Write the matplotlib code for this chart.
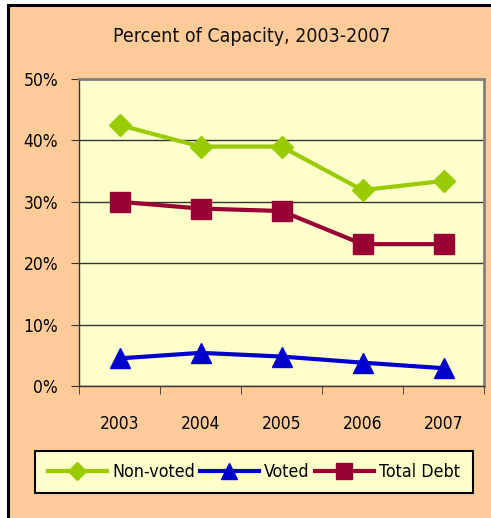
import matplotlib
matplotlib.use("Agg")
import matplotlib.pyplot as plt
from matplotlib.patches import Rectangle
from matplotlib.ticker import FixedLocator, PercentFormatter

years = ["2003", "2004", "2005", "2006", "2007"]
non_voted = [42.5, 39.0, 39.0, 31.9, 33.4]
voted = [4.5, 5.4, 4.8, 3.8, 2.9]
total_debt = [30.0, 28.9, 28.5, 23.1, 23.1]
title = "Percent of Capacity, 2003-2007"

plt.rcParams["font.family"] = ["DejaVu Sans"]
plt.rcParams["font.stretch"] = "condensed"

W, H = 491, 518
fig = plt.figure(figsize=(W / 100, H / 100), dpi=100)
fig.patch.set_facecolor("white")

# outer chart frame (only top and left edges visible)
fig.add_artist(Rectangle((8 / W, -0.2), 1.2, 1.2 - 5 / H, transform=fig.transFigure,
                         facecolor="#FFCC99", edgecolor="black", linewidth=2.2, zorder=-5))

ax = fig.add_axes([79 / W, 1 - 386 / H, (484 - 79) / W, (386 - 79) / H])
ax.set_facecolor("#FFFFCC")

x = list(range(len(years)))
ax.plot(x, non_voted, color="#99CC00", lw=3, marker="D", ms=11.5, label="Non-voted", zorder=3)
ax.plot(x, voted, color="#0000CC", lw=3, marker="^", ms=15, label="Voted", zorder=3)
ax.plot(x, total_debt, color="#990033", lw=3, marker="s", ms=14, label="Total Debt", zorder=3)

ax.set_xlim(-0.5, len(years) - 0.5)
ax.set_ylim(0, 50)
ax.yaxis.set_major_locator(FixedLocator([0, 10, 20, 30, 40, 50]))
ax.yaxis.set_major_formatter(PercentFormatter(decimals=0))
ax.grid(axis="y", color="#333333", lw=1.0)
ax.set_axisbelow(True)

ax.set_xticks(x)
ax.set_xticklabels(years)
ax.set_xticks([i - 0.5 for i in range(len(years) + 1)], minor=True)
ax.tick_params(axis="x", which="major", length=0, pad=21, labelsize=12.5)
ax.tick_params(axis="x", which="minor", length=6, direction="out", color="#333333")
ax.tick_params(axis="y", length=6, direction="out", pad=9, labelsize=12.5, color="#333333")

for s in ["top", "right"]:
    ax.spines[s].set_color("#808080")
    ax.spines[s].set_linewidth(2)
for s in ["left", "bottom"]:
    ax.spines[s].set_color("#333333")
    ax.spines[s].set_linewidth(1)

fig.text(252 / W, 1 - 37 / H, title, ha="center", va="center", fontsize=14,
         color="#111111", fontweight="medium")

leg = fig.legend(loc="center", bbox_to_anchor=(254 / W, 1 - 472 / H), ncol=3,
                 frameon=True, fancybox=False, fontsize=12.8, handlelength=3.3,
                 columnspacing=0.3, handletextpad=0.3, borderpad=0.7,
                 markerscale=0.8)
leg.get_frame().set_facecolor("#FFFFCC")
leg.get_frame().set_edgecolor("black")
leg.get_frame().set_linewidth(1.5)
leg.get_frame().set_alpha(1)

fig.savefig("out.png", dpi=100, facecolor=fig.get_facecolor())
